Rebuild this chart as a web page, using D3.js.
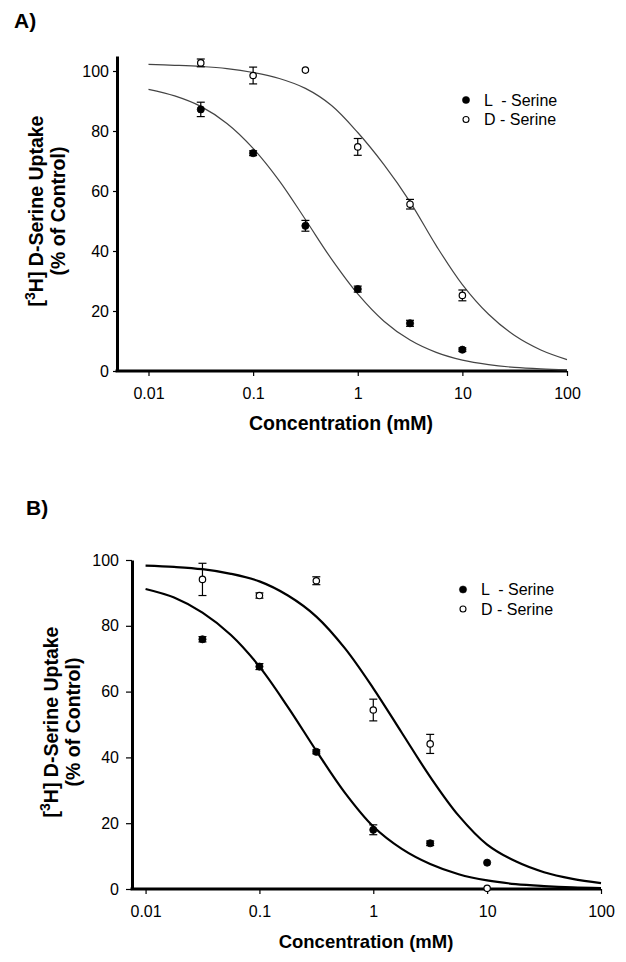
<!DOCTYPE html>
<html>
<head>
<meta charset="utf-8">
<script src="https://cdn.jsdelivr.net/npm/d3@7/dist/d3.min.js"></script>
<style>
  html, body { margin: 0; padding: 0; background: #fff; }
  svg { display: block; font-family: Arial, "Liberation Sans", sans-serif; }
</style>
</head>
<body>
<svg id="chart" width="626" height="962"></svg>
<script>
// ---------- data ----------
const concentrations = [0.0316, 0.1, 0.316, 1, 3.16, 10];
const tickValues = [0.01, 0.1, 1, 10, 100];
const tickLabels = ["0.01", "0.1", "1", "10", "100"];
const yTickValues = [0, 20, 40, 60, 80, 100];
const legendLabels = ["L  - Serine", "D - Serine"];

// Panel A
const lSerineA = [87.2, 72.6, 48.4, 27.3, 15.9, 7.1];
const lErrA    = [2.4, 0.8, 1.8, 1.0, 1.0, 0.6];
const dSerineA = [102.7, 98.5, 100.3, 74.7, 55.6, 25.2];
const dErrA    = [1.3, 2.8, 0, 2.8, 1.6, 1.8];
// Panel B
const lSerineB = [75.9, 67.6, 41.7, 18.0, 13.9, 8.0];
const lErrB    = [0.8, 0.9, 0.6, 1.5, 0.7, 0];
const dSerineB = [94.1, 89.2, 93.7, 54.4, 44.1, 0.2];
const dErrB    = [4.9, 0.8, 1.2, 3.3, 2.9, 0];

// Fitted curves at quarter-decade steps
const curveX = [0.01, 0.0178, 0.0316, 0.0562, 0.1, 0.178, 0.316, 0.562, 1,
                1.78, 3.16, 5.62, 10, 17.8, 31.6, 56.2, 100];
const lFitA = [93.9, 91.7, 88.2, 82.5, 74.2, 63.4, 50.5, 37.3, 25.7,
               16.6, 10.3, 6.2, 3.6, 2.1, 1.2, 0.7, 0.4];
const dFitA = [102.2, 101.9, 101.5, 100.8, 99.5, 97.5, 94.2, 88.5, 79.5,
               68.8, 56.4, 41.8, 28.8, 18.9, 11.8, 7.0, 3.8];
const lFitB = [91.2, 88.6, 84.0, 77.2, 67.6, 55.3, 42.0, 29.3, 19.0,
               12.2, 7.6, 4.5, 2.6, 1.5, 0.9, 0.5, 0.3];
const dFitB = [98.3, 97.9, 97.2, 95.8, 93.5, 89.2, 82.8, 73.2, 61.0,
               47.5, 34.1, 22.3, 13.5, 8.4, 5.1, 3.1, 1.8];

// ---------- drawing ----------
const svg = d3.select("#chart");

function drawPanel(p) {
  const g = svg.append("g");
  const x = d3.scaleLog().domain(p.xDomain).range([p.left, p.right]);
  const y = d3.scaleLinear().domain(p.yDomain).range([p.bottom, p.top]);

  // panel letter
  g.append("text").attr("x", p.letterX).attr("y", p.letterY)
    .attr("font-size", 21).attr("font-weight", "bold").text(p.letter);

  // axes
  const xAxis = d3.axisBottom(x).tickValues(tickValues)
    .tickFormat((d, i) => tickLabels[i]).tickSizeInner(5).tickSizeOuter(0).tickPadding(12);
  const gx = g.append("g").attr("transform", `translate(0,${p.bottom})`).call(xAxis);
  gx.select(".domain").attr("stroke", "#000").attr("stroke-width", 3)
    .attr("d", `M${p.left - 1.5},0H${p.right}`);
  gx.selectAll(".tick line").attr("stroke", "#000").attr("stroke-width", 1.2);
  gx.selectAll(".tick text").attr("font-size", 16).attr("fill", "#000")
    .attr("font-family", "Arial, 'Liberation Sans', sans-serif");

  const yAxis = d3.axisLeft(y).tickValues(yTickValues)
    .tickSizeInner(p.yTick).tickSizeOuter(0).tickPadding(p.yPad);
  const gy = g.append("g").attr("transform", `translate(${p.left},0)`).call(yAxis);
  gy.select(".domain").attr("stroke", "#000").attr("stroke-width", 3);
  gy.selectAll(".tick line").attr("stroke", "#000").attr("stroke-width", 1.2);
  gy.selectAll(".tick text").attr("font-size", 16).attr("fill", "#000")
    .attr("font-family", "Arial, 'Liberation Sans', sans-serif");

  // axis titles
  g.append("text").attr("x", p.xTitleX).attr("y", p.xTitleY)
    .attr("text-anchor", "middle").attr("font-size", p.xTitleSize).attr("font-weight", "bold")
    .text("Concentration (mM)");

  const t1 = g.append("text")
    .attr("transform", `translate(${p.yTitleX1},${p.yTitleY}) rotate(-90)`)
    .attr("text-anchor", "middle").attr("font-size", 19.5).attr("font-weight", "bold");
  t1.append("tspan").text("[");
  t1.append("tspan").attr("font-size", 14).attr("dy", -8).text("3");
  t1.append("tspan").attr("dy", 8).text("H] D-Serine Uptake");
  g.append("text")
    .attr("transform", `translate(${p.yTitleX2},${p.yTitleY}) rotate(-90)`)
    .attr("text-anchor", "middle").attr("font-size", 19.5).attr("font-weight", "bold")
    .text("(% of Control)");

  // fitted curves
  const line = d3.line().x((d) => x(d[0])).y((d) => y(d[1]))
    .curve(d3.curveCatmullRom.alpha(0.5));
  [p.lFit, p.dFit].forEach((fit) => {
    g.append("path").datum(curveX.map((c, i) => [c, fit[i]]))
      .attr("d", line).attr("fill", "none")
      .attr("stroke", p.curveColor).attr("stroke-width", p.curveWidth);
  });

  // data points with error bars
  const series = [
    { vals: p.lVals, errs: p.lErrs, filled: true },
    { vals: p.dVals, errs: p.dErrs, filled: false }
  ];
  series.forEach((s) => {
    const pts = concentrations.map((c, i) => ({ c, v: s.vals[i], e: s.errs[i] }));
    const eb = g.append("g").attr("stroke", "#000").attr("stroke-width", 1.2);
    pts.filter((d) => d.e > 0.3).forEach((d) => {
      const cx = x(d.c);
      eb.append("line").attr("x1", cx).attr("x2", cx)
        .attr("y1", y(d.v - d.e)).attr("y2", y(d.v + d.e));
      [d.v - d.e, d.v + d.e].forEach((yy) => {
        eb.append("line").attr("x1", cx - 4).attr("x2", cx + 4)
          .attr("y1", y(yy)).attr("y2", y(yy));
      });
    });
    g.append("g").selectAll("circle").data(pts).join("circle")
      .attr("cx", (d) => x(d.c)).attr("cy", (d) => y(d.v))
      .attr("r", s.filled ? 3.6 : 3.2)
      .attr("fill", s.filled ? "#000" : "#fff")
      .attr("stroke", "#000").attr("stroke-width", s.filled ? 0.8 : 1.2);
  });

  // legend
  legendLabels.forEach((lab, i) => {
    const ly = p.legY + i * p.legGap;
    g.append("circle").attr("cx", p.legX).attr("cy", ly)
      .attr("r", i === 0 ? 3.6 : 3)
      .attr("fill", i === 0 ? "#000" : "#fff")
      .attr("stroke", "#000").attr("stroke-width", i === 0 ? 0.5 : 1.1);
    g.append("text").attr("x", p.legX + 18).attr("y", ly + 5.8)
      .attr("font-size", 16).style("white-space", "pre").text(lab);
  });
}

drawPanel({
  letter: "A)", letterX: 14, letterY: 28,
  xDomain: [0.005, 100], yDomain: [0, 105],
  left: 117, right: 567, top: 56, bottom: 371,
  yTick: 4, yPad: 4,
  xTitleX: 341, xTitleY: 430, xTitleSize: 19.5,
  yTitleX1: 43, yTitleX2: 65, yTitleY: 211,
  lVals: lSerineA, lErrs: lErrA, dVals: dSerineA, dErrs: dErrA,
  lFit: lFitA, dFit: dFitA, curveColor: "#444", curveWidth: 1.2,
  legX: 466, legY: 100, legGap: 19.5
});

drawPanel({
  letter: "B)", letterX: 26, letterY: 515,
  xDomain: [0.0076, 100], yDomain: [0, 100],
  left: 132, right: 601, top: 560, bottom: 889,
  yTick: 6, yPad: 7,
  xTitleX: 366, xTitleY: 948, xTitleSize: 18.5,
  yTitleX1: 58, yTitleX2: 80, yTitleY: 722,
  lVals: lSerineB, lErrs: lErrB, dVals: dSerineB, dErrs: dErrB,
  lFit: lFitB, dFit: dFitB, curveColor: "#000", curveWidth: 2.2,
  legX: 463, legY: 589.5, legGap: 19.5
});
</script>
</body>
</html>
